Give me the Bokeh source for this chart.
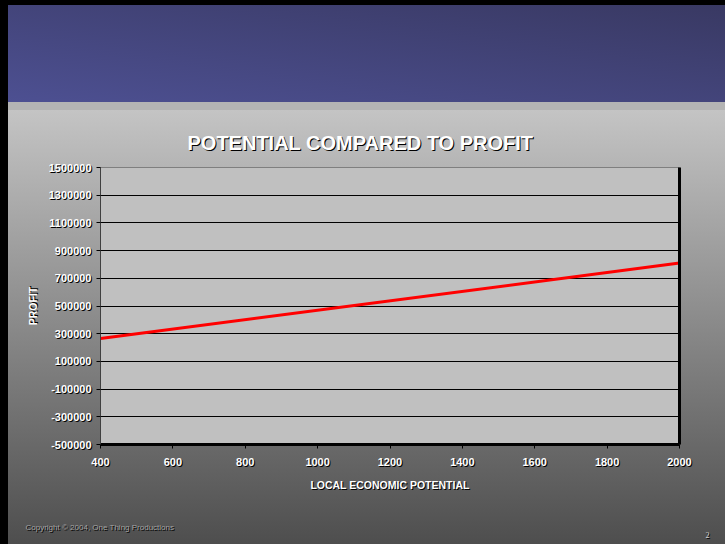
from bokeh.plotting import figure
from bokeh.models import LinearAxis, FixedTicker, Range1d, Grid, Label
from bokeh.embed import file_html
from bokeh.resources import INLINE

# ---- data ----
potential = [400, 2000]
profit = [265000, 810000]
x_ticks = [400, 600, 800, 1000, 1200, 1400, 1600, 1800, 2000]
y_ticks = [-500000, -300000, -100000, 100000, 300000, 500000, 700000, 900000,
           1100000, 1300000, 1500000]
x_tick_labels = [str(v) for v in x_ticks]
y_tick_labels = [str(v) for v in y_ticks]
title_text = "POTENTIAL COMPARED TO PROFIT"
x_title = "LOCAL ECONOMIC POTENTIAL"
y_title = "PROFIT"
copyright_text = "Copyright © 2004, One Thing Productions"
page_text = "2"

W, H = 725, 544
FL, FR, FT, FB = 100, 679, 167, 444
FONT = "Liberation Sans"

p = figure(width=W, height=H, output_backend="svg", toolbar_location=None,
           x_range=Range1d(400, 2000), y_range=Range1d(-500000, 1500000),
           min_border_left=FL, min_border_right=W - FR,
           min_border_top=FT, min_border_bottom=H - FB,
           background_fill_color="#c0c0c0", border_fill_alpha=0,
           outline_line_color="#7f7f7f", outline_line_width=1,
           x_axis_type=None, y_axis_type=None)

p.styles = {
    "text-shadow": "1px 1px 0px #000000",
    "background": (
        "linear-gradient(#000,#000) 0 0 / 100% 5px no-repeat, "
        "linear-gradient(#000,#000) 0 0 / 8px 100% no-repeat, "
        "linear-gradient(to top right, #4d5092, #393963) 0 5px / 100% 97px no-repeat, "
        "linear-gradient(#b4b4b4,#b4b4b4) 0 102px / 100% 8px no-repeat, "
        "linear-gradient(#c4c4c4, #4e4e4e) 0 110px / 100% 434px no-repeat"
    ),
}

# grid
ygrid = Grid(dimension=1, ticker=FixedTicker(ticks=y_ticks[1:-1]),
             grid_line_color="#000000", grid_line_width=1)
p.add_layout(ygrid)

# title
p.title.text = title_text
p.title.text_font = FONT
p.title.text_font_style = "bold"
p.title.text_font_size = "20px"
p.title.text_color = "#ffffff"
p.title.align = "left"
p.title.offset = 87
p.title.standoff = 27

# axes
xaxis = LinearAxis(ticker=FixedTicker(ticks=x_ticks),
                   major_label_overrides=dict(zip(x_ticks, x_tick_labels)),
                   axis_label=x_title)
xaxis.axis_line_color = "#000000"
xaxis.axis_line_width = 3
xaxis.major_tick_line_color = "#000000"
xaxis.major_tick_out = 4
xaxis.major_tick_in = 0
xaxis.minor_tick_line_color = None
xaxis.major_label_text_font = FONT
xaxis.major_label_text_font_style = "bold"
xaxis.major_label_text_font_size = "11px"
xaxis.major_label_text_color = "#ffffff"
xaxis.major_label_standoff = 9
xaxis.axis_label_text_font = FONT
xaxis.axis_label_text_font_style = "bold"
xaxis.axis_label_text_font_size = "10.5px"
xaxis.axis_label_text_color = "#ffffff"
xaxis.axis_label_standoff = 10
p.add_layout(xaxis, "below")

yaxis = LinearAxis(ticker=FixedTicker(ticks=y_ticks),
                   major_label_overrides=dict(zip(y_ticks, y_tick_labels)),
                   axis_label=y_title)
yaxis.axis_line_color = "#404040"
yaxis.axis_line_width = 1
yaxis.major_tick_line_color = "#000000"
yaxis.major_tick_out = 4
yaxis.major_tick_in = 0
yaxis.minor_tick_line_color = None
yaxis.major_label_text_font = FONT
yaxis.major_label_text_font_style = "bold"
yaxis.major_label_text_font_size = "11px"
yaxis.major_label_text_color = "#ffffff"
yaxis.major_label_standoff = 5
yaxis.axis_label_text_font = FONT
yaxis.axis_label_text_font_style = "bold"
yaxis.axis_label_text_font_size = "10.5px"
yaxis.axis_label_text_color = "#ffffff"
yaxis.axis_label_standoff = 7
p.add_layout(yaxis, "left")

raxis = LinearAxis(ticker=FixedTicker(ticks=[]))
raxis.axis_line_color = "#000000"
raxis.axis_line_width = 3
raxis.major_tick_line_color = None
raxis.minor_tick_line_color = None
raxis.major_label_text_font_size = "0px"
p.add_layout(raxis, "right")

# footer texts (side-panel labels, screen units relative to the panel)
p.add_layout(Label(text=copyright_text, x=-75, y=-25, x_units="screen", y_units="screen",
                   text_font=FONT, text_font_size="8px", text_color="#a4a4a4",
                   text_align="left", text_baseline="middle"), "below")
p.add_layout(Label(text=page_text, x=607, y=-26, x_units="screen", y_units="screen",
                   text_font="Liberation Serif", text_font_size="8px",
                   text_color="#d8d8d8", text_align="center", text_baseline="middle"),
             "below")

# series
p.line(potential, profit, line_color="#ff0000", line_width=3)

open("out.html", "w").write(file_html(p, INLINE))
